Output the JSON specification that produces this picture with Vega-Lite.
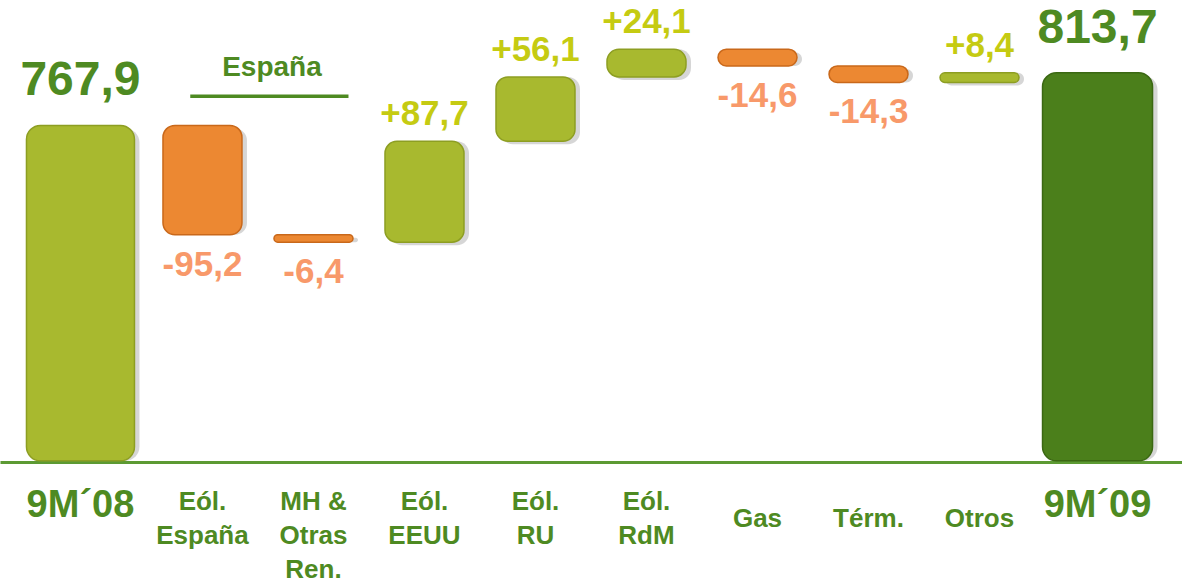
{
  "$schema": "https://vega.github.io/schema/vega-lite/v6.json",
  "width": 1182,
  "height": 462,
  "autosize": {"type": "none"},
  "padding": {"left": 0, "top": 0, "right": 0, "bottom": 120},
  "background": "white",
  "config": {"view": {"stroke": null}},
  "data": {
    "values": [
      {"cat": "9M´08", "start": null, "end": 767.9, "label": "767,9", "type": "total1"},
      {"cat": "Eól.\nEspaña", "start": 767.9, "end": 672.7, "label": "-95,2", "type": "neg"},
      {"cat": "MH &\nOtras\nRen.", "start": 672.7, "end": 666.3, "label": "-6,4", "type": "neg"},
      {"cat": "Eól.\nEEUU", "start": 666.3, "end": 754.0, "label": "+87,7", "type": "pos"},
      {"cat": "Eól.\nRU", "start": 754.0, "end": 810.1, "label": "+56,1", "type": "pos"},
      {"cat": "Eól.\nRdM", "start": 810.1, "end": 834.2, "label": "+24,1", "type": "pos"},
      {"cat": "Gas", "start": 834.2, "end": 819.6, "label": "-14,6", "type": "neg"},
      {"cat": "Térm.", "start": 819.6, "end": 805.3, "label": "-14,3", "type": "neg"},
      {"cat": "Otros", "start": 805.3, "end": 813.7, "label": "+8,4", "type": "pos"},
      {"cat": "9M´09", "start": null, "end": 813.7, "label": "813,7", "type": "total2"}
    ]
  },
  "encoding": {
    "x": {
      "field": "cat",
      "type": "nominal",
      "sort": null,
      "scale": {
        "domain": ["9M´08", "Eól.\nEspaña", "MH &\nOtras\nRen.", "Eól.\nEEUU", "Eól.\nRU", "Eól.\nRdM", "Gas", "Térm.", "Otros", "9M´09"],
        "paddingInner": 0,
        "paddingOuter": 0.324
      },
      "axis": {
        "title": null,
        "labelAngle": 0,
        "domainColor": "#5C9A33",
        "domainWidth": 3,
        "ticks": false,
        "tickSize": 0,
        "labelOverlap": false,
        "labelBound": false,
        "labelFlush": false,
        "labelFont": "Liberation Sans",
        "labelFontWeight": "bold",
        "labelColor": "#4E8A22",
        "labelBaseline": "alphabetic",
        "labelLineHeight": 34,
        "labelExpr": "split(datum.label, '\\n')",
        "labelFontSize": {"condition": {"test": "indexof(datum.value, '9M') === 0", "value": 38}, "value": 26},
        "labelOffset": {
          "condition": [
            {"test": "datum.value === '9M´08'", "value": -11},
            {"test": "datum.value === '9M´09'", "value": 7}
          ],
          "value": 0
        },
        "labelPadding": {
          "condition": [
            {"test": "indexof(datum.value, '9M') === 0", "value": 54},
            {"test": "indexof(datum.value, '\\n') < 0", "value": 64}
          ],
          "value": 47
        }
      }
    }
  },
  "layer": [
    {
      "transform": [{"filter": "datum.type === 'total1'"}],
      "mark": {"type": "bar", "width": 108, "cornerRadius": 14, "fill": "#000000", "opacity": 0.16, "xOffset": -6, "yOffset": 3},
      "encoding": {"y": {"field": "end", "type": "quantitative", "scale": {"domain": [475, 877], "zero": false, "nice": false}, "axis": null}, "y2": {"datum": 476}}
    },
    {
      "transform": [{"filter": "datum.type === 'total2'"}],
      "mark": {"type": "bar", "width": 110, "cornerRadius": 14, "fill": "#000000", "opacity": 0.16, "xOffset": 12, "yOffset": 3},
      "encoding": {"y": {"field": "end", "type": "quantitative"}, "y2": {"datum": 476}}
    },
    {
      "transform": [{"filter": "datum.type === 'pos' || datum.type === 'neg'"}],
      "mark": {"type": "bar", "width": 79, "cornerRadius": 12, "fill": "#000000", "opacity": 0.16, "xOffset": 5, "yOffset": 3},
      "encoding": {"y": {"field": "start", "type": "quantitative"}, "y2": {"field": "end"}}
    },
    {
      "transform": [{"filter": "datum.type === 'total1'"}],
      "mark": {"type": "bar", "width": 108, "cornerRadius": 14, "fill": "#A8B92F", "stroke": "#8D9E22", "strokeWidth": 1.5, "xOffset": -11},
      "encoding": {"y": {"field": "end", "type": "quantitative"}, "y2": {"datum": 476}}
    },
    {
      "transform": [{"filter": "datum.type === 'total2'"}],
      "mark": {"type": "bar", "width": 110, "cornerRadius": 14, "fill": "#4B7F1B", "stroke": "#3B6813", "strokeWidth": 1.5, "xOffset": 7},
      "encoding": {"y": {"field": "end", "type": "quantitative"}, "y2": {"datum": 476}}
    },
    {
      "transform": [{"filter": "datum.type === 'pos'"}],
      "mark": {"type": "bar", "width": 79, "cornerRadius": 12, "fill": "#A8B92F", "stroke": "#8D9E22", "strokeWidth": 1.5},
      "encoding": {"y": {"field": "start", "type": "quantitative"}, "y2": {"field": "end"}}
    },
    {
      "transform": [{"filter": "datum.type === 'neg'"}],
      "mark": {"type": "bar", "width": 79, "cornerRadius": 12, "fill": "#EC8832", "stroke": "#C9681A", "strokeWidth": 1.5},
      "encoding": {"y": {"field": "start", "type": "quantitative"}, "y2": {"field": "end"}}
    },
    {
      "transform": [{"filter": "datum.type === 'total1'"}],
      "mark": {"type": "text", "font": "Liberation Sans", "fontWeight": "bold", "fontSize": 48, "fill": "#4E8A22", "baseline": "middle", "dy": -44, "dx": -11},
      "encoding": {"y": {"field": "end", "type": "quantitative"}, "text": {"field": "label"}}
    },
    {
      "transform": [{"filter": "datum.type === 'total2'"}],
      "mark": {"type": "text", "font": "Liberation Sans", "fontWeight": "bold", "fontSize": 48, "fill": "#4E8A22", "baseline": "middle", "dy": -44, "dx": 7},
      "encoding": {"y": {"field": "end", "type": "quantitative"}, "text": {"field": "label"}}
    },
    {
      "transform": [{"filter": "datum.type === 'pos'"}],
      "mark": {"type": "text", "font": "Liberation Sans", "fontWeight": "bold", "fontSize": 35, "fill": "#C5CB12", "baseline": "middle", "dy": -27},
      "encoding": {"y": {"field": "end", "type": "quantitative"}, "text": {"field": "label"}}
    },
    {
      "transform": [{"filter": "datum.type === 'neg'"}],
      "mark": {"type": "text", "font": "Liberation Sans", "fontWeight": "bold", "fontSize": 35, "fill": "#F8996A", "baseline": "middle", "dy": 30},
      "encoding": {"y": {"field": "end", "type": "quantitative"}, "text": {"field": "label"}}
    },
    {
      "data": {"values": [{"a": "Eól.\nEspaña", "b": "MH &\nOtras\nRen.", "ly": 793.3, "ty": 810.7, "text": "España"}]},
      "mark": {"type": "rule", "stroke": "#4E8A22", "strokeWidth": 3.5, "x2Offset": 35},
      "encoding": {"x": {"field": "a", "type": "nominal", "bandPosition": 0.39}, "x2": {"field": "b"}, "y": {"field": "ly", "type": "quantitative"}}
    },
    {
      "data": {"values": [{"a": "Eól.\nEspaña", "b": "MH &\nOtras\nRen.", "ly": 793.3, "ty": 810.7, "text": "España"}]},
      "mark": {"type": "text", "font": "Liberation Sans", "fontWeight": "bold", "fontSize": 28, "fill": "#4E8A22", "baseline": "alphabetic", "dx": 14},
      "encoding": {"x": {"field": "b", "type": "nominal", "bandPosition": 0}, "y": {"field": "ty", "type": "quantitative"}, "text": {"field": "text"}}
    }
  ]
}
